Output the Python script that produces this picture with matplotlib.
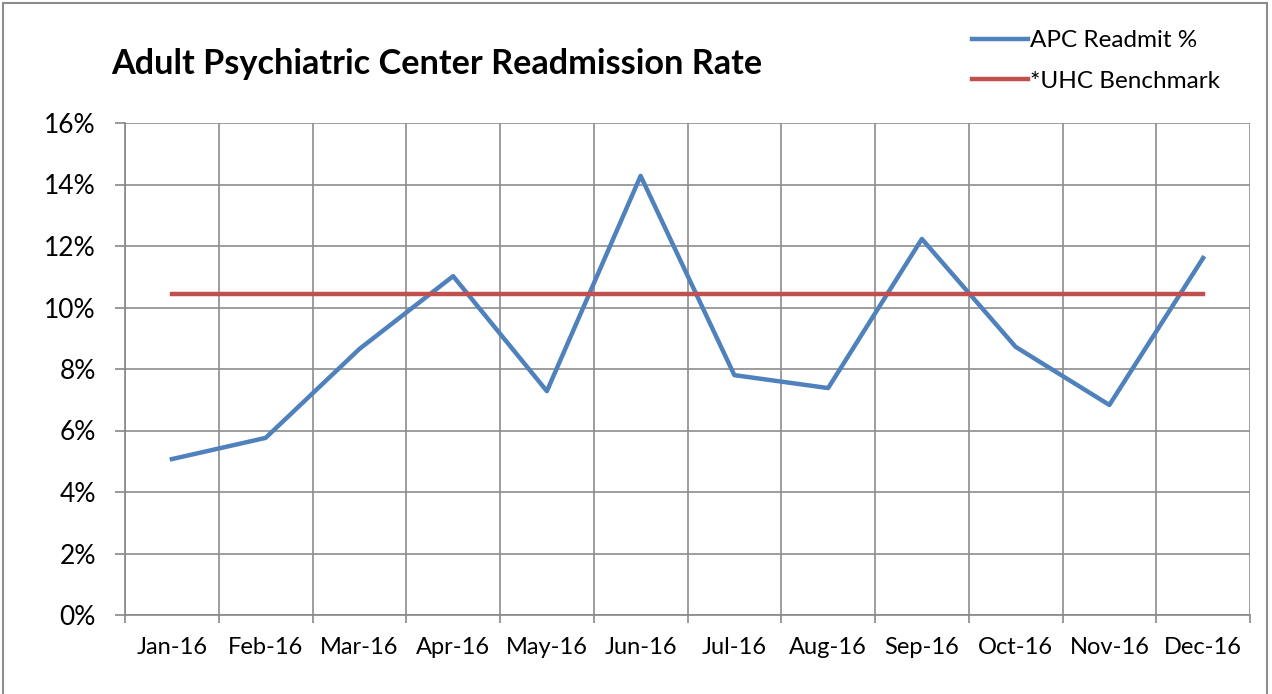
import numpy as np
import matplotlib.pyplot as plt
from matplotlib.patches import Rectangle

# data
months = ['Jan-16', 'Feb-16', 'Mar-16', 'Apr-16', 'May-16', 'Jun-16',
          'Jul-16', 'Aug-16', 'Sep-16', 'Oct-16', 'Nov-16', 'Dec-16']
readmit_pct = [5.07, 5.76, 8.65, 11.02, 7.28, 14.28,
               7.80, 7.38, 12.23, 8.72, 6.83, 11.61]
benchmark_pct = [10.44] * 12

plt.rcParams['font.family'] = ['Lato', 'DejaVu Sans']

fig = plt.figure(figsize=(12.72, 6.94), dpi=100)
ax = fig.add_axes([125 / 1272, 79 / 694, 1125 / 1272, 492 / 694])

x = np.arange(len(months))
ax.plot(x, readmit_pct, color='#4F81BD', lw=3.2, solid_joinstyle='round',
        label='APC Readmit %')
ax.plot(x, benchmark_pct, color='#C0504D', lw=3.2, label='*UHC Benchmark')

ax.set_xlim(-0.5, len(months) - 0.5)
ax.set_ylim(0, 16)
ax.set_yticks(np.arange(0, 17, 2))
ax.set_yticklabels([f'{v}%' for v in range(0, 17, 2)], fontsize=19)

# category boundaries for grid/ticks, labels at centres
ax.set_xticks(np.arange(-0.5, len(months)), minor=False)
ax.set_xticklabels([])
ax.set_xticks(x, minor=True)
ax.set_xticklabels(months, minor=True, fontsize=17)
ax.tick_params(axis='x', which='minor', length=0, pad=16)
ax.tick_params(axis='x', which='major', length=6, color='#888888', width=1.2)
ax.tick_params(axis='y', length=7, color='#888888', width=1.2, pad=14)

ax.grid(True, which='major', color='#8c8c8c', lw=1.2)
ax.set_axisbelow(True)
for side in ['top', 'right']:
    ax.spines[side].set_visible(False)
for side in ['left', 'bottom']:
    ax.spines[side].set_color('#888888')
    ax.spines[side].set_linewidth(1.2)

fig.text(111 / 1272, 1 - 64 / 694, 'Adult Psychiatric Center Readmission Rate',
         fontsize=24.7, fontweight='bold', va='center', ha='left')

leg = ax.legend(loc='upper left', bbox_to_anchor=(960 / 1272, 1 - 18 / 694),
                bbox_transform=fig.transFigure, frameon=False, fontsize=17.5,
                handlelength=2.3, handletextpad=0.1, labelspacing=0.8,
                borderpad=0)

# outer chart border
fig.patches.append(Rectangle((3 / 1272, -0.01), 1264 / 1272, 1 - 3 / 694 + 0.01,
                             transform=fig.transFigure, fill=False,
                             edgecolor='#8c8c8c', lw=1.5))

fig.savefig('out.png', dpi=100)
